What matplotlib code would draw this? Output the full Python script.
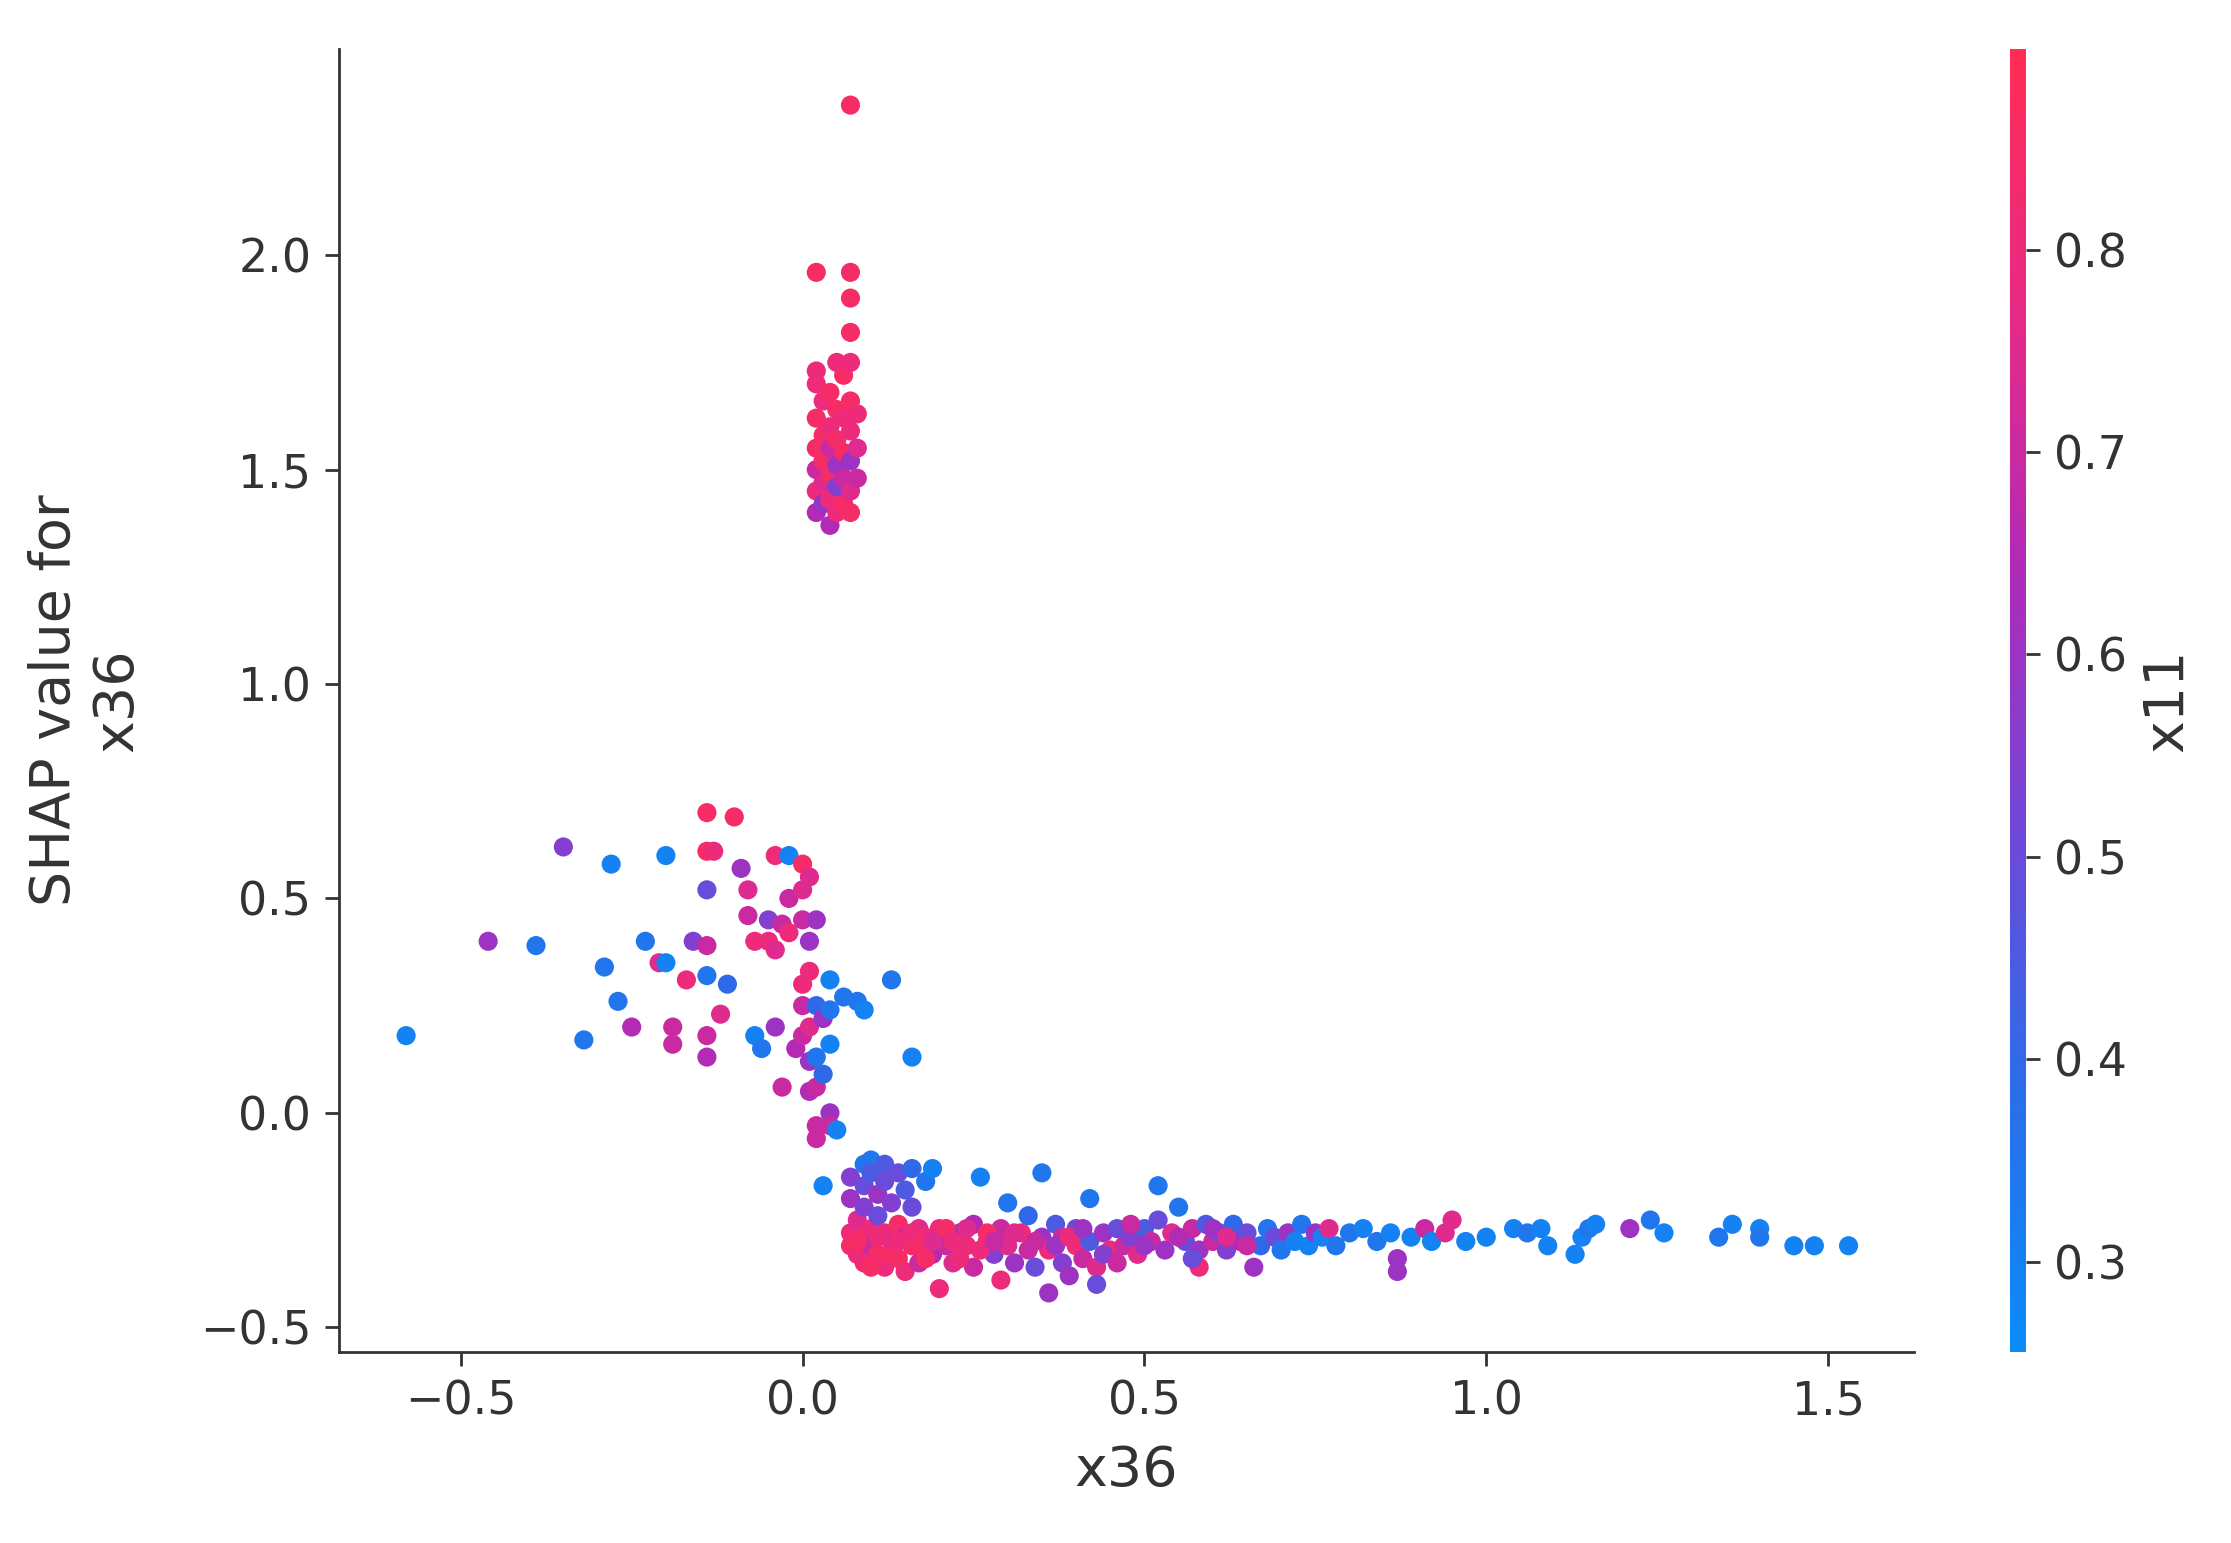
import matplotlib
matplotlib.use("Agg")
import matplotlib.pyplot as plt
from matplotlib.colors import LinearSegmentedColormap
import numpy as np

top_pts = [(0.07,2.35,0.85),(0.02,1.96,0.85),(0.07,1.96,0.85),(0.07,1.90,0.85),(0.07,1.82,0.85),
(0.02,1.73,0.8),(0.02,1.70,0.8),(0.02,1.62,0.85),(0.02,1.55,0.85),(0.02,1.50,0.7),(0.02,1.45,0.8),(0.02,1.40,0.65),
(0.03,1.66,0.8),(0.03,1.58,0.85),(0.03,1.52,0.85),(0.03,1.47,0.75),(0.03,1.42,0.6),(0.04,1.68,0.85),(0.04,1.60,0.8),
(0.04,1.55,0.7),(0.04,1.49,0.85),(0.04,1.43,0.8),(0.04,1.37,0.65),(0.05,1.75,0.8),(0.05,1.64,0.85),(0.05,1.57,0.85),
(0.05,1.51,0.6),(0.05,1.46,0.55),(0.05,1.40,0.8),(0.06,1.72,0.85),(0.06,1.62,0.8),(0.06,1.54,0.85),(0.06,1.48,0.7),
(0.06,1.42,0.85),(0.07,1.75,0.8),(0.07,1.66,0.85),(0.07,1.59,0.8),(0.07,1.52,0.6),(0.07,1.45,0.75),(0.07,1.40,0.85),
(0.08,1.63,0.8),(0.08,1.55,0.75),(0.08,1.48,0.7)]

left_pts = [(-0.58,0.18,0.3),(-0.46,0.40,0.6),(-0.39,0.39,0.35),(-0.35,0.62,0.55),(-0.32,0.17,0.35),(-0.28,0.58,0.3),
(-0.29,0.34,0.35),(-0.27,0.26,0.35),(-0.25,0.20,0.65),(-0.23,0.40,0.35),(-0.21,0.35,0.75),(-0.20,0.60,0.3),(-0.20,0.35,0.3),
(-0.19,0.20,0.7),(-0.19,0.16,0.7),(-0.17,0.31,0.8),(-0.16,0.40,0.55),(-0.14,0.70,0.85),(-0.14,0.61,0.85),(-0.14,0.52,0.5),
(-0.14,0.39,0.7),(-0.14,0.32,0.35),(-0.14,0.18,0.7),(-0.14,0.13,0.65),(-0.13,0.61,0.8),(-0.12,0.23,0.75),(-0.11,0.30,0.4),
(-0.10,0.69,0.85),(-0.09,0.57,0.6),(-0.08,0.52,0.75),(-0.08,0.46,0.7),(-0.07,0.40,0.8),(-0.07,0.18,0.3),(-0.06,0.15,0.35),
(-0.05,0.45,0.55),(-0.05,0.40,0.8),(-0.04,0.60,0.8),(-0.04,0.38,0.75),(-0.04,0.20,0.6),(-0.03,0.44,0.7),(-0.03,0.06,0.7),
(-0.02,0.60,0.3),(-0.02,0.50,0.7),(-0.02,0.42,0.8),(-0.01,0.15,0.65),(0.0,0.58,0.85),(0.0,0.52,0.75),(0.0,0.45,0.7),
(0.0,0.30,0.8),(0.0,0.25,0.7),(0.0,0.18,0.7),(0.01,0.55,0.75),(0.01,0.40,0.6),(0.01,0.33,0.8),(0.01,0.20,0.75),
(0.01,0.12,0.6),(0.01,0.05,0.65),(0.02,0.45,0.6),(0.02,0.25,0.4),(0.02,0.13,0.35),(0.02,0.06,0.7),(0.02,-0.03,0.7),
(0.02,-0.06,0.7),(0.03,0.22,0.6),(0.03,0.09,0.4),(0.04,0.31,0.3),(0.04,0.24,0.35),(0.04,0.16,0.3),(0.04,0.0,0.6),
(0.04,-0.03,0.7),(0.05,-0.04,0.3),(0.06,0.27,0.35),(0.08,0.26,0.35),(0.09,0.24,0.3),(0.13,0.31,0.35),(0.16,0.13,0.3),
(0.03,-0.17,0.3),(0.10,-0.11,0.35)]

band_pts = [(0.07,-0.15,0.55),(0.07,-0.2,0.6),(0.07,-0.28,0.8),(0.07,-0.31,0.85),(0.08,-0.25,0.75),(0.08,-0.33,0.8),
(0.09,-0.12,0.35),(0.09,-0.17,0.5),(0.09,-0.22,0.55),(0.09,-0.29,0.85),(0.09,-0.35,0.8),(0.10,-0.14,0.45),(0.10,-0.27,0.8),
(0.10,-0.31,0.7),(0.11,-0.19,0.6),(0.11,-0.24,0.5),(0.11,-0.33,0.85),(0.12,-0.12,0.45),(0.12,-0.16,0.5),(0.12,-0.28,0.8),
(0.12,-0.36,0.8),(0.13,-0.21,0.55),(0.13,-0.30,0.75),(0.14,-0.14,0.5),(0.14,-0.26,0.85),(0.14,-0.34,0.85),(0.15,-0.18,0.45),
(0.15,-0.29,0.7),(0.15,-0.37,0.8),(0.16,-0.13,0.4),(0.16,-0.22,0.5),(0.16,-0.31,0.85),(0.17,-0.27,0.75),(0.17,-0.35,0.7),
(0.18,-0.16,0.35),(0.18,-0.29,0.8),(0.19,-0.33,0.65),(0.19,-0.13,0.3),(0.20,-0.27,0.8),(0.20,-0.41,0.8),(0.21,-0.31,0.7),
(0.22,-0.35,0.75),(0.23,-0.28,0.6),(0.24,-0.31,0.8),(0.25,-0.26,0.65),(0.25,-0.36,0.7),(0.26,-0.15,0.3),(0.27,-0.30,0.8),
(0.28,-0.33,0.55),(0.29,-0.27,0.7),(0.29,-0.39,0.8),(0.30,-0.21,0.35),(0.30,-0.31,0.75),(0.31,-0.35,0.6),(0.32,-0.28,0.8),
(0.33,-0.24,0.4),(0.33,-0.32,0.7),(0.34,-0.36,0.5),(0.35,-0.29,0.6),(0.35,-0.14,0.35),(0.36,-0.42,0.6),(0.36,-0.32,0.8),
(0.37,-0.26,0.45),(0.38,-0.35,0.55),(0.38,-0.29,0.7),(0.39,-0.38,0.6),(0.40,-0.31,0.8),(0.40,-0.27,0.5),(0.41,-0.34,0.7),
(0.42,-0.30,0.45),(0.42,-0.20,0.35),(0.43,-0.36,0.75),(0.43,-0.40,0.5),(0.44,-0.28,0.6),(0.45,-0.32,0.8),(0.46,-0.27,0.5),
(0.47,-0.31,0.7),(0.48,-0.29,0.55),(0.49,-0.33,0.75),(0.50,-0.27,0.45),(0.51,-0.30,0.7),(0.52,-0.17,0.35),(0.52,-0.25,0.5),
(0.53,-0.32,0.6),(0.54,-0.28,0.75),(0.55,-0.22,0.35),(0.56,-0.30,0.5),(0.57,-0.27,0.7),(0.58,-0.32,0.6),(0.58,-0.36,0.8),
(0.59,-0.26,0.45),(0.60,-0.30,0.7),(0.61,-0.28,0.5),(0.62,-0.32,0.55),(0.63,-0.26,0.4),(0.64,-0.30,0.65),(0.65,-0.28,0.5),
(0.66,-0.36,0.6),(0.67,-0.31,0.4),(0.68,-0.27,0.35),(0.69,-0.29,0.5),(0.70,-0.32,0.35),(0.71,-0.28,0.6),(0.72,-0.30,0.3),
(0.73,-0.26,0.35),(0.74,-0.31,0.3),(0.75,-0.28,0.6),(0.76,-0.29,0.3),(0.77,-0.27,0.75),(0.78,-0.31,0.35),(0.80,-0.28,0.35),
(0.82,-0.27,0.3),(0.84,-0.30,0.35),(0.86,-0.28,0.3),(0.87,-0.34,0.6),(0.87,-0.37,0.6),(0.89,-0.29,0.3),(0.91,-0.27,0.7),
(0.92,-0.30,0.3),(0.94,-0.28,0.75),(0.95,-0.25,0.75),(0.97,-0.30,0.3),(1.00,-0.29,0.3),(1.04,-0.27,0.3),(1.06,-0.28,0.35),
(1.08,-0.27,0.3),(1.09,-0.31,0.3),(1.13,-0.33,0.3),(1.14,-0.29,0.3),(1.15,-0.27,0.35),(1.16,-0.26,0.3),(1.21,-0.27,0.6),
(1.24,-0.25,0.35),(1.26,-0.28,0.3),(1.34,-0.29,0.35),(1.36,-0.26,0.3),(1.40,-0.27,0.3),(1.40,-0.29,0.35),(1.45,-0.31,0.3),
(1.48,-0.31,0.3),(1.53,-0.31,0.3),
(0.08,-0.30,0.85),(0.10,-0.36,0.85),(0.11,-0.29,0.8),(0.13,-0.33,0.85),(0.14,-0.30,0.8),(0.16,-0.28,0.8),(0.17,-0.31,0.85),
(0.18,-0.34,0.85),(0.19,-0.30,0.75),(0.21,-0.27,0.85),(0.22,-0.30,0.8),(0.23,-0.34,0.8),(0.24,-0.27,0.75),(0.26,-0.32,0.8),
(0.27,-0.28,0.85),(0.28,-0.30,0.7),(0.31,-0.28,0.75),(0.34,-0.30,0.7),(0.37,-0.31,0.6),(0.39,-0.29,0.8),(0.41,-0.27,0.6),
(0.44,-0.33,0.55),(0.46,-0.35,0.7),(0.48,-0.26,0.7),(0.50,-0.31,0.6),(0.55,-0.29,0.65),(0.57,-0.34,0.5),(0.60,-0.27,0.6),
(0.62,-0.29,0.75),(0.65,-0.31,0.7)]

pts = np.array(top_pts + left_pts + band_pts)
x, y, c = pts[:, 0], pts[:, 1], pts[:, 2]

cmap = LinearSegmentedColormap.from_list(
    "shap_rb", [(0.0, "#0a8cf8"), (0.22, "#2f6ae8"), (0.4, "#7048d8"), (0.6, "#b02ab8"), (0.8, "#e82a86"), (1.0, "#ff2d55")])

fig = plt.figure(figsize=(22.31, 15.43), dpi=100)
ax = fig.add_axes([0.152, 0.124, 0.706, 0.844])
sc = ax.scatter(x, y, c=c, cmap=cmap, vmin=0.2555, vmax=0.899, s=190, linewidths=0)
ax.set_xlim(-0.678, 1.626)
ax.set_ylim(-0.557, 2.48)
ax.set_xticks([-0.5, 0.0, 0.5, 1.0, 1.5])
ax.set_xticklabels(["\u22120.5", "0.0", "0.5", "1.0", "1.5"])
ax.set_yticks([-0.5, 0.0, 0.5, 1.0, 1.5, 2.0])
ax.set_yticklabels(["\u22120.5", "0.0", "0.5", "1.0", "1.5", "2.0"])
for s in ["top", "right"]:
    ax.spines[s].set_visible(False)
for s in ["left", "bottom"]:
    ax.spines[s].set_color("#333333")
    ax.spines[s].set_linewidth(2)
ax.tick_params(labelsize=33, colors="#333333", width=2, length=10, pad=10)
ax.set_xlabel("x36", fontsize=40, color="#333333", labelpad=14)
ax.set_ylabel("SHAP value for\nx36", fontsize=40, color="#333333", labelpad=40)

cax = fig.add_axes([0.901, 0.124, 0.007, 0.844])
cb = fig.colorbar(sc, cax=cax)
cb.outline.set_visible(False)
cb.set_ticks([0.3, 0.4, 0.5, 0.6, 0.7, 0.8])
cb.ax.tick_params(labelsize=33, colors="#333333", width=2, length=10, pad=10)
cb.set_label("x11", fontsize=40, color="#333333", labelpad=10)
fig.savefig("out.png", dpi=100)
